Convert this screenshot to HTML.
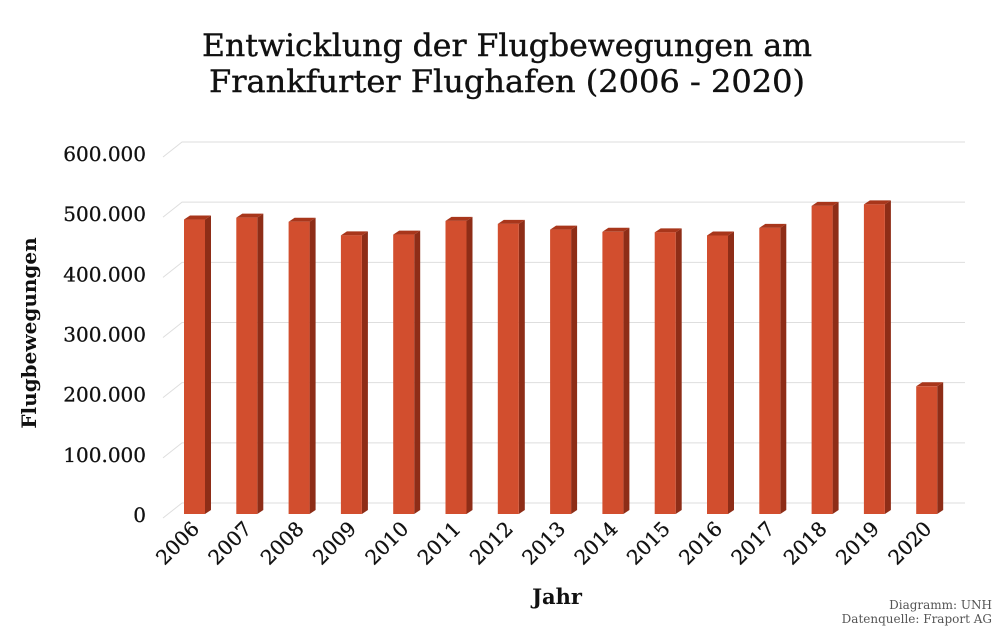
<!DOCTYPE html>
<html><head><meta charset="utf-8"><style>
body{margin:0;background:#fff;width:1000px;height:629px;overflow:hidden;font-family:"Liberation Serif","DejaVu Serif",serif;}
svg text{font-family:"DejaVu Serif","Liberation Serif",serif;}
</style></head><body>
<svg id="chart" width="1000" height="629">
<text x="507" y="56" text-anchor="middle" font-size="31" fill="#111" stroke="#111" stroke-width="0.4" textLength="610" lengthAdjust="spacingAndGlyphs">Entwicklung der Flugbewegungen am</text>
<text x="507" y="92" text-anchor="middle" font-size="31" fill="#111" stroke="#111" stroke-width="0.4" textLength="596" lengthAdjust="spacingAndGlyphs">Frankfurter Flughafen (2006 - 2020)</text>
<g id="grid"></g><g id="bars"></g><g id="xlabels"></g>
<text x="36" y="333" text-anchor="middle" font-size="20" font-weight="bold" fill="#111" transform="rotate(-90 36 333)">Flugbewegungen</text>
<text x="557" y="604" text-anchor="middle" font-size="21" font-weight="bold" fill="#111">Jahr</text>
<text x="992" y="609" text-anchor="end" font-size="12" fill="#555">Diagramm: UNH</text>
<text x="992" y="623" text-anchor="end" font-size="12" fill="#555">Datenquelle: Fraport AG</text>
</svg>
<script>
const years=["2006","2007","2008","2009","2010","2011","2012","2013","2014","2015","2016","2017","2018","2019","2020"];
const values=[489406,492569,485783,463111,464432,487162,482242,472692,469026,468153,462885,475537,512115,514546,212235];
const ticks=[0,100000,200000,300000,400000,500000,600000];
const tickLabels=["0","100.000","200.000","300.000","400.000","500.000","600.000"];
const NS="http://www.w3.org/2000/svg";
const y=v=>514-v*(361/600000);
const x=i=>184+i*52.3;
function mk(tag,attrs,parent){const e=document.createElementNS(NS,tag);for(const k in attrs)e.setAttribute(k,attrs[k]);parent.appendChild(e);return e;}
const g=document.getElementById('grid');
ticks.forEach((t,i)=>{
  const yy=y(t);
  const l=mk('polyline',{points:`163,${yy+4} 182,${yy-11} 965,${yy-11}`,fill:'none',stroke:'#dedede','stroke-width':1},g);
  
  
  const tx=mk('text',{x:146,y:yy+8,'text-anchor':'end','font-size':20,fill:'#111',stroke:'#111','stroke-width':0.3},g);
  tx.textContent=tickLabels[i];
  
  
});
const b=document.getElementById('bars');const xl=document.getElementById('xlabels');
values.forEach((v,i)=>{
  const x0=x(i),w=21,d=6,h=4,top=y(v),base=514;
  const grp=mk('g',{},b);
  
  
  mk('polygon',{points:`${x0+w},${top} ${x0+w+d},${top-h} ${x0+w+d},${base-h} ${x0+w},${base}`,fill:'#8e2d17'},grp);
  mk('polygon',{points:`${x0},${top} ${x0+d},${top-h} ${x0+w+d},${top-h} ${x0+w},${top}`,fill:'#a8361b'},grp);
  mk('rect',{x:x0,y:top,width:w,height:base-top,fill:'#d24e2e'},grp);
  const cx=x0+w/2+6,cy=530;
  const t=mk('text',{x:cx,y:cy,'text-anchor':'end','font-size':20,fill:'#111',stroke:'#111','stroke-width':0.3,transform:`rotate(-45 ${cx} ${cy})`},xl);
  t.textContent=years[i];
  
  
});
</script>
</body></html>
